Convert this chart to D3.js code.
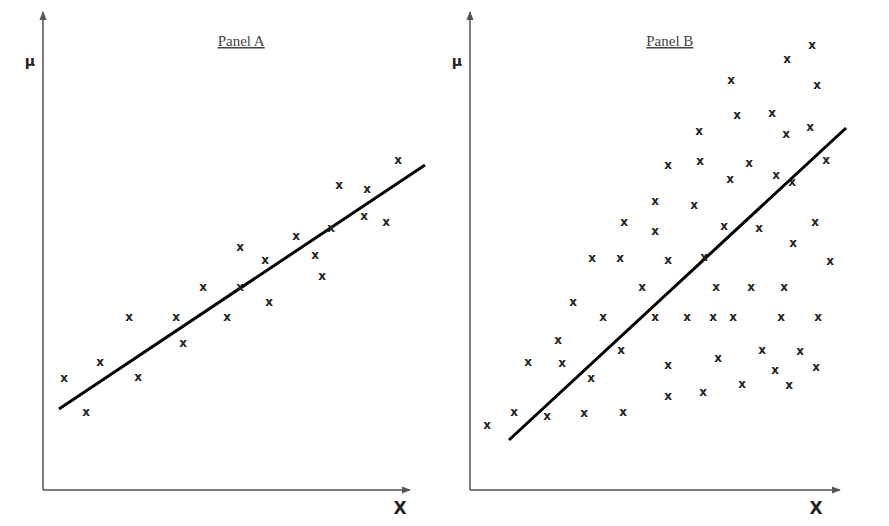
<!DOCTYPE html>
<html><head><meta charset="utf-8">
<script src="https://cdn.jsdelivr.net/npm/d3@7"></script>
<style>body{margin:0;background:#fff}</style></head>
<body><svg id="c" width="889" height="526"></svg>
<script>
// data in abstract units: x from y-axis, y up from x-axis
const pointsA = [[21,112],[43,78],[57,128],[86,173],[95,113],[133,173],[140,147],[160,203],[184,173],[197,243],[197,203],[222,230],[226,188],[253,254],[272,235],[279,214],[288,262],[296,305],[321,274],[324,301],[343,268],[355,330]];
const lineA = [[16,81],[382,325]];
const pointsB = [[17,65],[44,78],[58,128],[77,74],[88,150],[92,127],[103,188],[114,77],[121,112],[122,232],[133,173],[150,232],[151,140],[153,78],[154,268],[172,203],[185,289],[185,259],[185,173],[198,325],[198,230],[198,125],[198,94],[217,173],[224,285],[229,359],[230,329],[233,98],[234,233],[243,173],[246,203],[248,132],[254,264],[260,311],[261,410],[263,173],[267,375],[272,106],[279,327],[281,203],[289,262],[292,140],[302,377],[305,120],[306,315],[311,173],[314,203],[316,356],[317,431],[319,105],[322,308],[323,247],[330,139],[340,363],[342,445],[345,268],[346,123],[347,405],[348,173],[356,330],[360,229]];
const lineB = [[39,50],[376,362]];
const panels = [
  {title:"Panel A", ox:43, pts:pointsA, line:lineA, w:367, labelX:400},
  {title:"Panel B", ox:470, pts:pointsB, line:lineB, w:370, labelX:816}
];
const svg = d3.select("#c");
const baseY = 490, topY = 12;
const defs = svg.append("defs");
defs.append("marker").attr("id","ar").attr("viewBox","0 0 10 10").attr("refX",9).attr("refY",5)
 .attr("markerWidth",6).attr("markerHeight",6).attr("orient","auto")
 .append("path").attr("d","M0,1L10,5L0,9z").attr("fill","#555");
panels.forEach(p=>{
  const x = d3.scaleLinear().domain([0,p.w]).range([p.ox,p.ox+p.w]);
  const y = d3.scaleLinear().domain([0,baseY-topY]).range([baseY,topY]);
  const g = svg.append("g");
  g.append("line").attr("x1",x(0)).attr("y1",y(0)).attr("x2",x(0)).attr("y2",y(baseY-topY))
   .attr("stroke","#555").attr("stroke-width",1.5).attr("marker-end","url(#ar)");
  g.append("line").attr("x1",x(0)).attr("y1",y(0)).attr("x2",x(p.w)).attr("y2",y(0))
   .attr("stroke","#555").attr("stroke-width",1.5).attr("marker-end","url(#ar)");
  g.append("path").attr("d",d3.line().x(d=>x(d[0])).y(d=>y(d[1]))(p.line))
   .attr("stroke","#000").attr("stroke-width",3).attr("fill","none");
  g.selectAll("text.pt").data(p.pts).join("text").attr("class","pt")
   .attr("x",d=>x(d[0])).attr("y",d=>y(d[1])).attr("dy","0.35em").attr("text-anchor","middle")
   .attr("font-family","DejaVu Sans, sans-serif").attr("font-weight","bold").attr("font-size",12)
   .attr("fill","#222").text("x");
  g.append("text").attr("x",x(p.w*0.54)).attr("y",46).attr("text-anchor","middle")
   .attr("font-family","Liberation Serif, serif").attr("font-size",15).attr("fill","#444")
   .attr("text-decoration","underline").text(p.title);
  g.append("text").attr("x",x(0)-13).attr("y",66).attr("text-anchor","middle")
   .attr("font-family","DejaVu Sans, sans-serif").attr("font-weight","bold").attr("font-size",14)
   .attr("fill","#222").text("μ");
  g.append("text").attr("x",p.labelX).attr("y",514).attr("text-anchor","middle")
   .attr("font-family","DejaVu Sans, sans-serif").attr("font-weight","bold").attr("font-size",17)
   .attr("fill","#222").text("X");
});
</script></body></html>
